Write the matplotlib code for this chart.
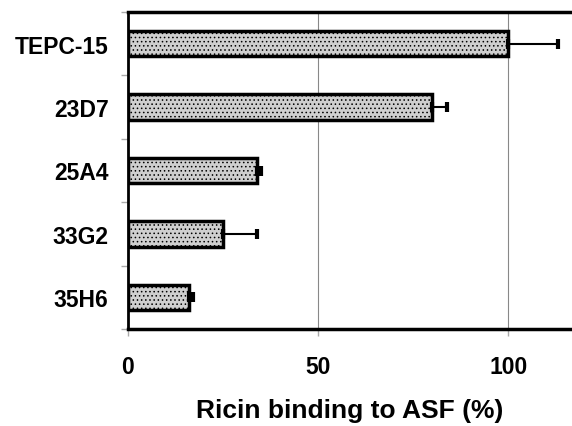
import matplotlib
matplotlib.use("Agg")
import matplotlib.pyplot as plt
import numpy as np

categories = ["TEPC-15", "23D7", "25A4", "33G2", "35H6"]
values = [100, 80, 34, 25, 16]
errors = [13, 4, 1, 9, 1]
xticks = [0, 50, 100]

plt.rcParams['font.family'] = ['Liberation Sans', 'DejaVu Sans']
plt.rcParams['hatch.color'] = '#bdbdbd'
plt.rcParams['hatch.linewidth'] = 0.6

fig = plt.figure(figsize=(5.72, 4.27), dpi=100)
ax = fig.add_axes([128/572, 1-330/427, 1-128/572, (330-13)/427])

n = len(categories)
ypos = np.arange(n)
ax.barh(ypos, values, height=0.4, color='#cfcfcf', edgecolor='black', linewidth=2.5, zorder=3,
        hatch='....')
ax.errorbar(values, ypos, xerr=[np.zeros(n), errors], fmt='none', ecolor='black',
            elinewidth=1.5, capsize=3.5, capthick=3, zorder=4)

ax.set_xlim(0, 116.8)
ax.set_ylim(n - 0.5, -0.5)
ax.set_xticks(xticks)
ax.set_xticklabels([str(t) for t in xticks], fontsize=16.5, fontweight='bold')
ax.set_yticks(ypos)
ax.set_yticklabels(categories, fontsize=16.5, fontweight='bold')
ax.tick_params(axis='y', which='major', length=0, pad=14)
ax.set_yticks(np.arange(n + 1) - 0.5, minor=True)
ax.tick_params(axis='y', which='minor', length=5, color='#aaaaaa', width=1)
ax.tick_params(axis='x', which='major', length=5, color='#aaaaaa', width=1, pad=14)

ax.xaxis.grid(True, color='#888888', linewidth=0.8, zorder=0)
ax.set_axisbelow(True)

for s in ['top', 'bottom']:
    ax.spines[s].set_linewidth(2.5)
    ax.spines[s].set_color('black')
ax.spines['left'].set_linewidth(2)
ax.spines['right'].set_visible(False)

ax.set_xlabel("Ricin binding to ASF (%)", fontsize=19, fontweight='bold', labelpad=14)

fig.savefig("out.png", dpi=100)
